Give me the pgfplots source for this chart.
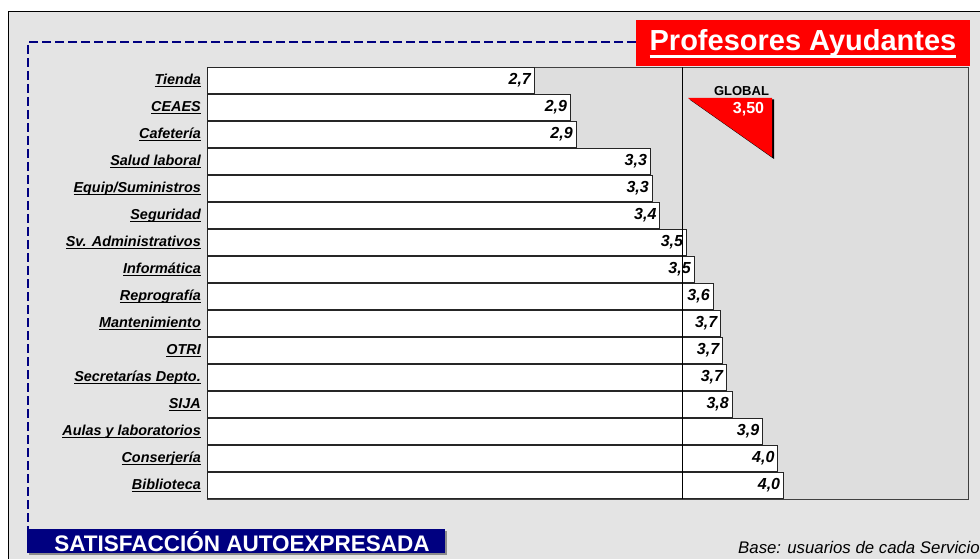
\documentclass[border=0pt]{standalone}
\usepackage{pgfplots}
\pgfplotsset{compat=1.18}
\usepackage{pgfplotstable}
\usepackage{fontspec}
\setmainfont{Liberation Sans}
\definecolor{outergray}{HTML}{E4E4E4}
\definecolor{plotgray}{HTML}{DEDEDE}
\definecolor{navyblue}{HTML}{000080}
\definecolor{xred}{HTML}{FF0000}
\newcommand\ulbox[3]{\setbox0\hbox{#1}\rlap{\rule[-#2]{\wd0}{#3}}\box0}
\newcommand\ul[1]{\ulbox{#1}{3pt}{1.3pt}}
\pgfplotstableread{
idx val lab
0 2.72 2,7
1 2.91 2,9
2 2.94 2,9
3 3.33 3,3
4 3.34 3,3
5 3.38 3,4
6 3.52 3,5
7 3.56 3,5
8 3.66 3,6
9 3.70 3,7
10 3.71 3,7
11 3.73 3,7
12 3.76 3,8
13 3.92 3,9
14 4.00 4,0
15 4.03 4,0
}\datatable
\begin{document}
\begin{tikzpicture}[x=1pt,y=1pt]
\useasboundingbox (0,0) rectangle (980,558);
\fill[white] (0,0) rectangle (980,558);
\filldraw[fill=outergray, draw=black, line width=0.9pt] (8,547) rectangle (990,-10);
\draw[navyblue, line width=1.8pt, dash pattern=on 9pt off 4pt] (636,516) -- (28,516) -- (28,29);
\begin{axis}[
  at={(207pt,59pt)}, anchor=south west,
  scale only axis, width=761pt, height=432pt,
  xbar, bar width=0.94,
  xmin=1, xmax=5, ymin=-0.5, ymax=15.5, y dir=reverse,
  xtick=\empty, ytick={0,...,15},
  yticklabels={\ul{Tienda},\ul{CEAES},\ul{Cafetería},\ul{Salud laboral},\ul{Equip/Suministros},\ul{Seguridad},\ul{Sv. Administrativos},\ul{Informática},\ul{Reprografía},\ul{Mantenimiento},\ul{OTRI},\ul{Secretarías Depto.},\ul{SIJA},\ul{Aulas y laboratorios},\ul{Conserjería},\ul{Biblioteca}},
  major tick length=0pt,
  yticklabel style={font=\fontsize{14.4}{16}\selectfont\bfseries\itshape, anchor=east, inner sep=0pt, xshift=-6pt},
  axis background/.style={fill=plotgray},
  axis line style={draw=black!75, line width=0.8pt},
  point meta=explicit symbolic,
  nodes near coords,
  every node near coord/.append style={font=\fontsize{16}{18}\selectfont\bfseries\itshape, anchor=east, inner sep=0pt, xshift=-3pt, text=black},
]
\addplot[fill=white, draw=black!85, line width=0.7pt] table[x=val,y=idx,meta=lab]{\datatable};
\draw[black, line width=0.8pt] (axis cs:3.5,-0.5) -- (axis cs:3.5,15.5);
\end{axis}
% title
\fill[xred] (636,538) rectangle (970,492);
\node[anchor=base, text=white, font=\fontsize{29}{32}\selectfont\bfseries, inner sep=0pt] at (803,507.3) {\ulbox{Profesores Ayudantes}{7.5pt}{3pt}};
% global marker
\fill[black] (689.5,458.5) -- (774,458.5) -- (774,399) -- cycle;
\fill[xred] (688,460) -- (772,460) -- (772,401) -- cycle;
\node[font=\fontsize{13}{14}\selectfont\bfseries, inner sep=0pt] at (741.5,466.7) {GLOBAL};
\node[font=\fontsize{16}{18}\selectfont\bfseries, text=white, inner sep=0pt] at (748.5,449) {3,50};
% bottom box
\fill[black!45] (29,27) rectangle (447,3);
\fill[navyblue] (27,29) rectangle (445,5);
\node[font=\fontsize{22.5}{24}\selectfont\bfseries, text=white, inner sep=0pt] at (242,16.5) {SATISFACCIÓN AUTOEXPRESADA};
\node[anchor=base west, font=\fontsize{16.8}{18}\selectfont\itshape, inner sep=0pt] at (738,5) {Base: usuarios de cada Servicio};
\end{tikzpicture}
\end{document}
